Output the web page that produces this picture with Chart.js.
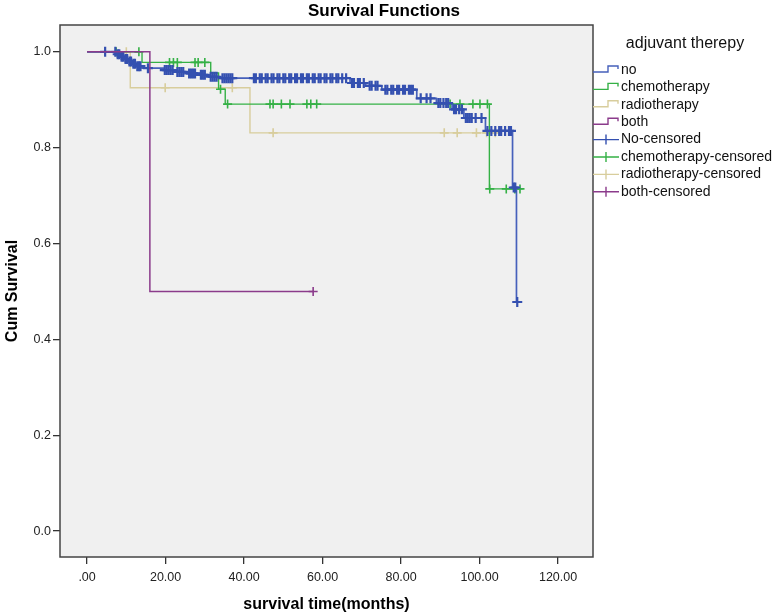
<!DOCTYPE html>
<html>
<head>
<meta charset="utf-8">
<script src="https://cdn.jsdelivr.net/npm/chart.js@4.4.1/dist/chart.umd.min.js"></script>
<style>
  html, body { margin: 0; padding: 0; background: #fff; }
  #wrap { width: 778px; height: 616px; }
</style>
</head>
<body>
<div id="wrap"><canvas id="km" width="778" height="616"></canvas></div>
<script>
const FONT = '"Liberation Sans", Arial, sans-serif';

// step points: time (months) and cum survival after the step
const noTimes = [0, 7.5, 8.5, 9.5, 10.5, 11.5, 12.5, 14.0, 19.5, 22.5, 25.5, 28.5, 31.0, 34.0, 67.0, 71.0, 75.1, 84.0, 89.0, 93.0, 96.0, 101.5, 108.4, 109.4, 109.6];
const noSurv = [1.0, 0.995, 0.99, 0.985, 0.98, 0.975, 0.97, 0.966, 0.962, 0.958, 0.955, 0.952, 0.948, 0.945, 0.935, 0.929, 0.921, 0.903, 0.893, 0.88, 0.862, 0.835, 0.717, 0.478, 0.478];
const noCensored = [4.6, 7.2, 7.8, 8.2, 8.8, 9.2, 9.8, 10.2, 10.8, 11.2, 11.8, 12.2, 12.8, 13.2, 13.6, 15.5,
  19.8, 20.3, 20.8, 21.3, 21.8, 23.0, 23.5, 24.0, 24.5, 26.0, 26.5, 27.0, 27.5, 29.0, 29.5, 30.0,
  31.5, 32.0, 32.5, 33.0, 34.5, 35.0, 35.5, 36.0, 36.5, 37.0, 42.5, 43.0, 44.0, 44.5, 45.5, 46.0,
  47.0, 47.5, 48.5, 49.0, 50.0, 50.5, 51.5, 52.0, 53.0, 53.5, 54.5, 55.0, 56.0, 56.5, 57.5, 58.0,
  59.0, 59.5, 60.5, 61.0, 62.0, 62.5, 63.5, 64.0, 65.0, 66.0, 67.5, 68.0, 69.0, 69.5, 70.5, 72.0,
  72.5, 73.5, 74.0, 76.0, 76.5, 77.5, 78.0, 79.0, 79.5, 80.5, 81.0, 82.0, 82.5, 83.0, 85.0, 86.5,
  87.5, 89.5, 90.0, 90.8, 91.5, 92.0, 93.5, 94.0, 94.8, 95.5, 96.5, 97.0, 97.5, 98.0, 99.0, 100.5,
  102.0, 103.0, 104.0, 105.0, 105.5, 106.5, 107.5, 108.0, 108.7, 109.1, 109.6];

const chemoTimes = [0, 14.0, 31.5, 33.5, 35.2, 102.5, 111.0];
const chemoSurv = [1.0, 0.978, 0.956, 0.922, 0.891, 0.714, 0.714];
const chemoCensored = [7.4, 13.2, 21.0, 22.0, 23.0, 27.5, 28.3, 30.0, 34.0, 35.8, 46.6, 47.4, 49.5, 51.7,
  56.0, 57.0, 58.5, 92.5, 95.0, 98.3, 100.1, 102.0, 102.6, 106.8, 109.0, 110.3];

const radioTimes = [0, 11.0, 41.5, 104.5];
const radioSurv = [1.0, 0.925, 0.831, 0.831];
const radioCensored = [10.0, 19.9, 37.0, 47.4, 91.0, 94.3, 99.2, 101.8, 104.0];

const bothTimes = [0, 16.0, 57.6];
const bothSurv = [1.0, 0.5, 0.5];
const bothCensored = [57.6];

const xTicks = [0, 20, 40, 60, 80, 100, 120];
const xTickLabels = ['.00', '20.00', '40.00', '60.00', '80.00', '100.00', '120.00'];
const yTicks = [0, 0.2, 0.4, 0.6, 0.8, 1.0];
const yTickLabels = ['0.0', '0.2', '0.4', '0.6', '0.8', '1.0'];

const legendTitle = 'adjuvant therepy';
const legendLabels = ['no', 'chemotherapy', 'radiotherapy', 'both', 'No-censored', 'chemotherapy-censored', 'radiotherapy-censored', 'both-censored'];

const colors = { no: '#4660bb', noMark: '#3450b0', chemo: '#35b146', radio: '#d8cd9c', both: '#8b3b8b' };

// survival value at time t (value of the last step at or before t)
function survAt(times, surv, t) {
  let s = surv[0];
  for (let i = 0; i < times.length; i++) if (times[i] <= t) s = surv[i];
  return s;
}

function curve(label, times, surv, color, width) {
  return {
    label, data: times.map((t, i) => ({ x: t, y: surv[i] })),
    showLine: true, stepped: 'before', borderColor: color, borderWidth: width || 1.4,
    pointRadius: 0, pointHoverRadius: 0, fill: false
  };
}

function marks(label, times, surv, cens, color, r, w) {
  return {
    label, data: cens.map(t => ({ x: t, y: survAt(times, surv, t) })),
    showLine: false, pointStyle: 'cross', pointRadius: r || 4.5, pointHoverRadius: r || 4.5,
    borderColor: color, borderWidth: w || 1.6, backgroundColor: color
  };
}

const frame = {
  id: 'frame',
  beforeDraw(chart) {
    const { ctx, chartArea: a } = chart;
    ctx.save();
    ctx.fillStyle = '#fff';
    ctx.fillRect(0, 0, chart.width, chart.height);
    ctx.fillStyle = '#f0f0f0';
    ctx.fillRect(a.left, a.top, a.right - a.left, a.bottom - a.top);
    ctx.restore();
  },
  afterDraw(chart) {
    const { ctx, chartArea: a } = chart;
    ctx.save();
    ctx.strokeStyle = '#444';
    ctx.lineWidth = 1.5;
    ctx.strokeRect(a.left, a.top, a.right - a.left, a.bottom - a.top);

    // chart title
    ctx.fillStyle = '#000';
    ctx.font = 'bold 17px ' + FONT;
    ctx.textAlign = 'center';
    ctx.textBaseline = 'middle';
    ctx.fillText('Survival Functions', 384, 11);

    // legend
    ctx.font = '16px ' + FONT;
    ctx.fillStyle = '#111';
    ctx.fillText(legendTitle, 685, 44);
    const lc = [colors.no, colors.chemo, colors.radio, colors.both, colors.noMark, colors.chemo, colors.radio, colors.both];
    ctx.font = '14px ' + FONT;
    ctx.textAlign = 'left';
    legendLabels.forEach((lab, i) => {
      const y = 70 + i * 17.4;
      ctx.strokeStyle = lc[i];
      ctx.lineWidth = 1.4;
      ctx.beginPath();
      if (i < 4) {
        ctx.moveTo(593, y + 2); ctx.lineTo(608, y + 2); ctx.lineTo(608, y - 4);
        ctx.lineTo(618, y - 4); ctx.lineTo(618, y - 1);
      } else {
        ctx.moveTo(593, y); ctx.lineTo(619, y);
        ctx.moveTo(606, y - 5); ctx.lineTo(606, y + 5);
      }
      ctx.stroke();
      ctx.fillStyle = '#111';
      ctx.fillText(lab, 621, y);
    });
    ctx.restore();
  }
};

new Chart(document.getElementById('km'), {
  type: 'scatter',
  data: {
    datasets: [
      curve('both', bothTimes, bothSurv, colors.both, 1.5),
      marks('both-censored', bothTimes, bothSurv, bothCensored, colors.both),
      marks('No-censored', noTimes, noSurv, noCensored, colors.noMark, 5, 2.2),
      curve('no', noTimes, noSurv, colors.no, 1.7),
      marks('chemotherapy-censored', chemoTimes, chemoSurv, chemoCensored, colors.chemo),
      curve('chemotherapy', chemoTimes, chemoSurv, colors.chemo),
      marks('radiotherapy-censored', radioTimes, radioSurv, radioCensored, colors.radio),
      curve('radiotherapy', radioTimes, radioSurv, colors.radio)
    ]
  },
  options: {
    responsive: false,
    animation: false,
    events: [],
    layout: { padding: { top: 25, right: 185, left: 0, bottom: 0 } },
    plugins: { legend: { display: false }, tooltip: { enabled: false }, title: { display: false } },
    scales: {
      x: {
        type: 'linear', min: -6.9, max: 128.9,
        afterBuildTicks: s => { s.ticks = xTicks.map(v => ({ value: v })); },
        afterFit: s => { s.height = 59; },
        ticks: { callback: (v, i) => xTickLabels[i], font: { size: 12.5, family: FONT }, color: '#222', padding: 6, maxRotation: 0 },
        grid: { drawOnChartArea: false, drawTicks: true, tickLength: 7, color: '#333', lineWidth: 1.3 },
        border: { display: false },
        title: { display: true, text: 'survival time(months)', color: '#000', font: { size: 16, weight: 'bold', family: FONT }, padding: { top: 6, bottom: 2 } }
      },
      y: {
        type: 'linear', min: -0.054, max: 1.056,
        afterBuildTicks: s => { s.ticks = yTicks.map(v => ({ value: v })); },
        afterFit: s => { s.width = 60; },
        ticks: { callback: (v, i) => yTickLabels[i], font: { size: 12.5, family: FONT }, color: '#222', padding: 2 },
        grid: { drawOnChartArea: false, drawTicks: true, tickLength: 7, color: '#333', lineWidth: 1.3 },
        border: { display: false },
        title: { display: true, text: 'Cum Survival', color: '#000', font: { size: 16, weight: 'bold', family: FONT }, padding: { top: 3, bottom: 0 } }
      }
    }
  },
  plugins: [frame]
});
</script>
</body>
</html>
